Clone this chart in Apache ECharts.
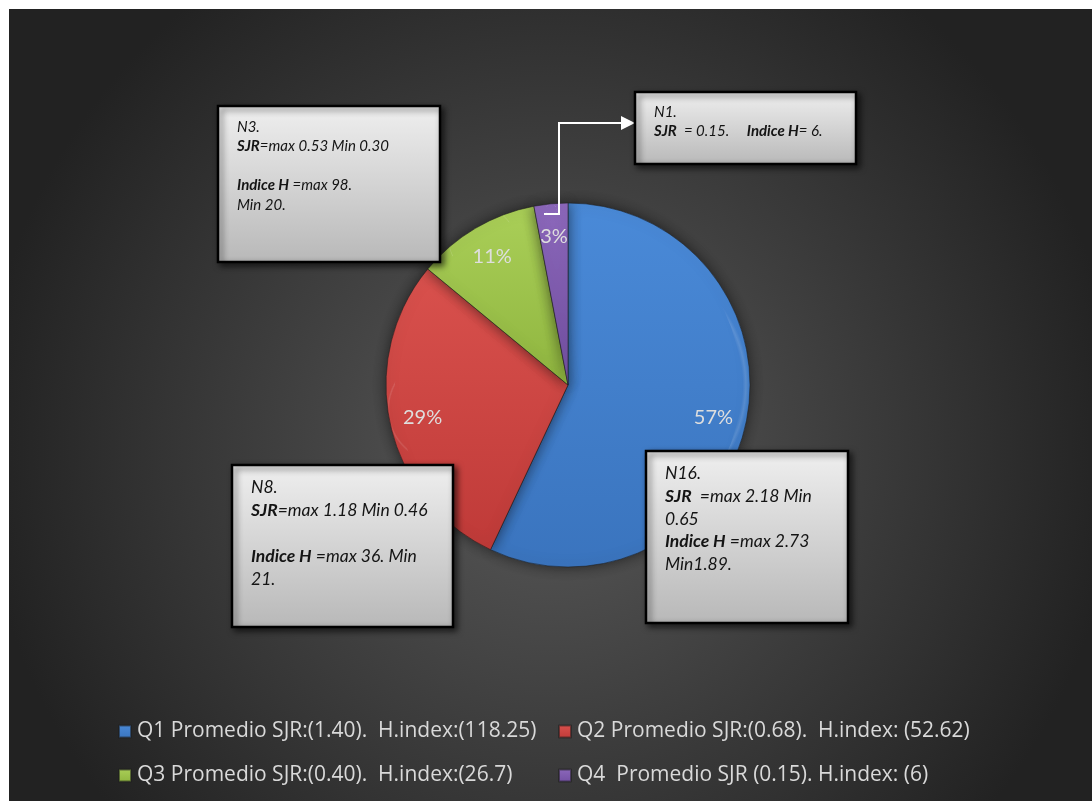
<!DOCTYPE html>
<html>
<head>
<meta charset="utf-8">
<script src="https://cdn.jsdelivr.net/npm/echarts@6/dist/echarts.min.js"></script>
<style>
html,body{margin:0;padding:0;background:#fff;}
#chart{width:1092px;height:801px;}
</style>
</head>
<body>
<div id="chart"></div>
<script>
// ---- data ----
const categories = [
  'Q1 Promedio SJR:(1.40).  H.index:(118.25)',
  'Q2 Promedio SJR:(0.68).  H.index: (52.62)',
  'Q3 Promedio SJR:(0.40).  H.index:(26.7)',
  'Q4  Promedio SJR (0.15). H.index: (6)'
];
const shares = [57, 29, 11, 3];
const noteQ1 = ['N16.', '{b|SJR}  =max 2.18 Min', '0.65', '{b|Indice H} =max 2.73', 'Min1.89.'];
const noteQ2 = ['N8.', '{b|SJR}=max 1.18 Min 0.46', '', '{b|Indice H} =max 36. Min', '21.'];
const noteQ3 = ['N3.', '{b|SJR}=max 0.53 Min 0.30', '', '{b|Indice H} =max 98.', 'Min 20.'];
const noteQ4 = ['N1.', '{b|SJR}  = 0.15.     {b|Indice H}= 6.'];

// ---- styling ----
const sliceColors = [
  ['#4a8ad8', '#3a74be'],
  ['#d9514d', '#bf3a38'],
  ['#aacf58', '#8fb53f'],
  ['#8c68bb', '#7350a3']
];
const FONT = 'Lato, "Open Sans", sans-serif';
const LFONT = '"Open Sans", Lato, sans-serif';
function grad(c) {
  return {type:'linear', x:0, y:0, x2:0, y2:1, colorStops:[{offset:0,color:c[0]},{offset:1,color:c[1]}]};
}
const pieData = categories.map((n, i) => ({name: n, value: shares[i], itemStyle: {color: grad(sliceColors[i])}}));
const labelData = categories.map((n, i) => ({name: n, value: shares[i]}));
const rimData = categories.map((n, i) => ({name: n, value: shares[i]}));

const CX = 568, CY = 385, R = 182;

function noteBox(x, y, w, h, lines, fs, lh) {
  return [
    {type:'rect', z:100, silent:true, shape:{x:x, y:y, width:w, height:h},
     style:{fill:{type:'linear',x:0,y:0,x2:0,y2:1,colorStops:[{offset:0,color:'#efefef'},{offset:1,color:'#b8b8b8'}]},
            stroke:'#000', lineWidth:2.5, shadowBlur:6, shadowOffsetX:3, shadowOffsetY:3, shadowColor:'rgba(0,0,0,0.6)'}},
    {type:'text', z:101, silent:true, x: x + 19, y: y + 11,
     style:{text: lines.join('\n'), fill:'#141414', font: 'italic ' + fs + 'px ' + FONT, lineHeight: lh,
            rich:{b:{fontWeight:'bold', fontStyle:'italic', fontSize: fs, fontFamily: FONT, fill:'#141414', lineHeight: lh}}}}
  ];
}

const chart = echarts.init(document.getElementById('chart'));
const legendPos = [[118, 721], [558, 721], [118, 765], [558, 765]];
chart.setOption({
  animation: false,
  legend: categories.map((n, i) => ({
    data: [n], left: legendPos[i][0], top: legendPos[i][1], padding: 0,
    itemWidth: 12, itemHeight: 12, icon: 'rect', itemGap: 0,
    textStyle: {color: '#d9d9d9', fontSize: 21, fontFamily: LFONT, padding: [0,0,0,1]}
  })),
  graphic: [
    {type:'rect', z:-10, silent:true, shape:{x:9, y:9, width:1083, height:792},
     style:{fill:{type:'radial', x:0.5, y:0.55, r:0.72, colorStops:[{offset:0,color:'#5a5a5a'},{offset:1,color:'#222222'}]}}},
    {type:'polyline', z:100, silent:true, shape:{points:[[544,214],[559,214],[559,123],[624,123]]}, style:{stroke:'#fff', lineWidth:2, fill:null}},
    {type:'polygon', z:100, silent:true, shape:{points:[[621,116],[635,123],[621,130]]}, style:{fill:'#fff'}}
  ].concat(
    noteBox(218, 106, 222, 156, noteQ3, 15, 19.5),
    noteBox(635, 92, 221, 72, noteQ4, 15, 19),
    noteBox(232, 465, 221, 162, noteQ2, 17.5, 23),
    noteBox(646, 451, 202, 172, noteQ1, 17.5, 22.8)
  ),
  series: [
    {
      type: 'pie', center: [CX, CY], radius: [0, R], startAngle: 90, clockwise: true,
      data: pieData, label: {show: false}, labelLine: {show: false},
      itemStyle: {borderColor: 'rgba(30,30,30,0.55)', borderWidth: 1, shadowBlur: 14, shadowColor: 'rgba(0,0,0,0.55)'},
      emphasis: {disabled: true}
    },
    {
      type: 'pie', center: [CX, CY], radius: [R - 9, R - 1], startAngle: 90, clockwise: true,
      data: rimData, silent: true, legendHoverLink: false,
      itemStyle: {color: {type:'radial', x:0.5, y:0.5, r:0.5, colorStops:[{offset:0,color:'rgba(255,255,255,0)'},{offset:0.95,color:'rgba(255,255,255,0)'},{offset:0.975,color:'rgba(255,255,255,0.12)'},{offset:1,color:'rgba(255,255,255,0)'}]}},
      label: {show: false}, labelLine: {show: false}, emphasis: {disabled: true}
    },
    {
      type: 'pie', center: [CX, CY], radius: [110, R], startAngle: 90, clockwise: true,
      data: labelData, silent: true,
      itemStyle: {color: 'rgba(0,0,0,0)'},
      label: {show: true, position: 'inside', formatter: '{d}%', color: '#dedede', fontSize: 20, fontFamily: FONT},
      labelLine: {show: false}, emphasis: {disabled: true}
    }
  ]
});
</script>
</body>
</html>
